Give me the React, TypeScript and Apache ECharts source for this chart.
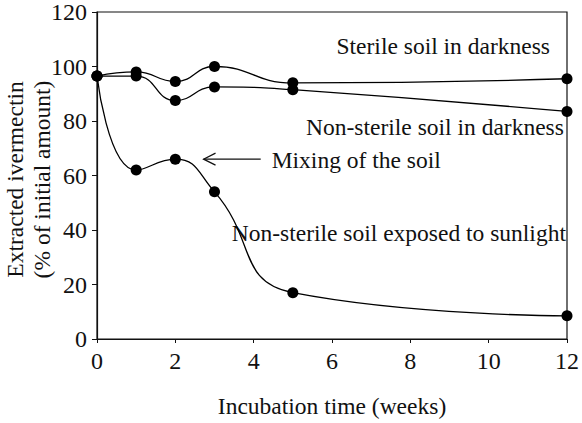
import React, { useEffect, useRef } from "react";
import * as echarts from "echarts";

const weeks = [0, 1, 2, 3, 5, 12];
const sterileDark = [96.5, 98, 94.5, 100, 94, 95.5];
const nonSterileDark = [96.5, 96.5, 87.5, 92.5, 91.5, 83.5];
const nonSterileSun = [96.5, 62, 66, 54, 17, 8.5];
const xTicks = [0, 2, 4, 6, 8, 10, 12];
const yTicks = [0, 20, 40, 60, 80, 100, 120];

const FONT = "Liberation Serif";

export default function App() {
  const ref = useRef<HTMLDivElement>(null);
  useEffect(() => {
    if (!ref.current) return;
    const chart = echarts.init(ref.current, undefined, { renderer: "svg" });
    const mk = (vals: number[]) => weeks.map((w, i) => [w, vals[i]]);
    const lineSeries = (name: string, vals: number[]) => ({
      name,
      type: "line",
      data: mk(vals),
      smooth: 0.5,
      symbol: "circle",
      symbolSize: 11,
      itemStyle: { color: "#000" },
      lineStyle: { color: "#000", width: 1.3 },
    });
    chart.setOption({
      animation: false,
      backgroundColor: "#fff",
      grid: { left: 97, right: 14, top: 11, bottom: 80, show: true, borderColor: "#111", borderWidth: 1.2, backgroundColor: "transparent" },
      xAxis: {
        type: "value",
        min: 0,
        max: 12,
        interval: 2,
        axisLine: { lineStyle: { color: "#111", width: 1.2 } },
        axisTick: { show: true, length: 4, lineStyle: { color: "#111" } },
        splitLine: { show: false },
        axisLabel: { color: "#111", fontFamily: FONT, fontSize: 24, margin: 10, formatter: (v: number) => (xTicks.includes(v) ? String(v) : "") },
        name: "Incubation time (weeks)",
        nameLocation: "middle",
        nameGap: 55,
        nameTextStyle: { color: "#111", fontFamily: FONT, fontSize: 23.5 },
      },
      yAxis: {
        type: "value",
        min: 0,
        max: 120,
        interval: 20,
        axisLine: { show: true, lineStyle: { color: "#111", width: 1.2 } },
        axisTick: { show: true, length: 5, lineStyle: { color: "#111" } },
        splitLine: { show: false },
        axisLabel: { color: "#111", fontFamily: FONT, fontSize: 24, margin: 10, formatter: (v: number) => (yTicks.includes(v) ? String(v) : "") },
      },
      series: [
        lineSeries("Sterile soil in darkness", sterileDark),
        lineSeries("Non-sterile soil in darkness", nonSterileDark),
        lineSeries("Non-sterile soil exposed to sunlight", nonSterileSun),
      ],
    });
    const p = (x: number, y: number) => chart.convertToPixel({ gridIndex: 0 }, [x, y]) as number[];
    const ts = { fill: "#111", fontFamily: FONT, fontSize: 23.5 };
    const a1 = p(8.84, 107.7);
    const a2 = p(11.92, 77.7);
    const a3 = p(4.46, 65.8);
    const a4 = p(3.44, 39);
    const arS = p(4.18, 66);
    const arE = p(2.72, 66);
    const yc = p(0, 60);
    chart.setOption({
      graphic: [
        { type: "text", x: a1[0], y: a1[1], style: { ...ts, text: "Sterile soil in darkness", align: "center", verticalAlign: "middle" } },
        { type: "text", x: a2[0], y: a2[1], style: { ...ts, text: "Non-sterile soil in darkness", align: "right", verticalAlign: "middle" } },
        { type: "text", x: a3[0], y: a3[1], style: { ...ts, text: "Mixing of the soil", align: "left", verticalAlign: "middle" } },
        { type: "text", x: a4[0], y: a4[1], style: { ...ts, text: "Non-sterile soil exposed to sunlight", align: "left", verticalAlign: "middle" } },
        { type: "line", shape: { x1: arS[0], y1: arS[1], x2: arE[0], y2: arE[1] }, style: { stroke: "#111", lineWidth: 1.2 } },
        { type: "polyline", shape: { points: [[arE[0] + 12, arE[1] - 6], [arE[0], arE[1]], [arE[0] + 12, arE[1] + 6]] }, style: { stroke: "#111", lineWidth: 1.2, fill: "none" } },
        { type: "text", x: 15, y: yc[1] + 4, rotation: Math.PI / 2, style: { ...ts, text: "Extracted ivermectin", align: "center", verticalAlign: "middle" } },
        { type: "text", x: 42, y: yc[1] + 4, rotation: Math.PI / 2, style: { ...ts, text: "(% of initial amount)", align: "center", verticalAlign: "middle" } },
      ],
    });
    return () => chart.dispose();
  }, []);
  return <div ref={ref} style={{ width: 582, height: 423, position: "absolute", left: 0, top: 0 }} />;
}
